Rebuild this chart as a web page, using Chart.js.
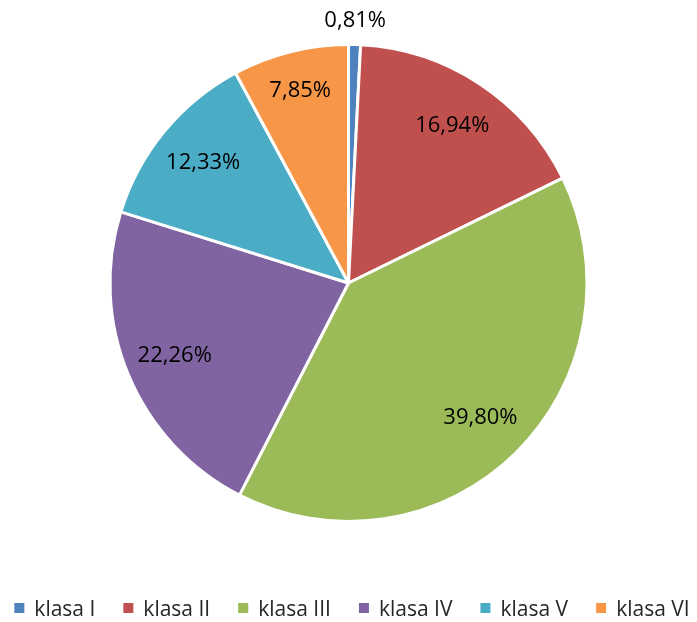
<!DOCTYPE html>
<html>
<head>
<meta charset="utf-8">
<script src="https://cdn.jsdelivr.net/npm/chart.js@4"></script>
<style>
  html, body { margin: 0; padding: 0; background: #fff; }
  #wrap { width: 697px; height: 622px; }
</style>
</head>
<body>
<div id="wrap"><canvas id="pie"></canvas></div>
<script>
    const categories = ['klasa I', 'klasa II', 'klasa III', 'klasa IV', 'klasa V', 'klasa VI'];
    const shares = [0.81, 16.94, 39.80, 22.26, 12.33, 7.85];
    const colors = ['#4F81BD', '#C0504D', '#9BBB59', '#8064A2', '#4BACC6', '#F79646'];

    const labelFont = '22px "Open Sans", sans-serif';
    const legendFont = '21px "Open Sans", sans-serif';

    // etykiety z wartościami na wycinkach
    const sliceLabels = {
        id: 'sliceLabels',
        afterDatasetsDraw(chart) {
            const ctx = chart.ctx;
            const arcs = chart.getDatasetMeta(0).data;
            ctx.save();
            ctx.font = labelFont;
            ctx.fillStyle = '#000';
            ctx.textAlign = 'center';
            ctx.textBaseline = 'middle';
            arcs.forEach((arc, i) => {
                const mid = (arc.startAngle + arc.endAngle) / 2;
                const f = shares[i] < 2 ? 1.1 : (shares[i] < 10 ? 0.83 : 0.79);
                const r = arc.outerRadius * f;
                const x = arc.x + Math.cos(mid) * r;
                const y = arc.y + Math.sin(mid) * r;
                ctx.fillText(shares[i].toFixed(2).replace('.', ',') + '%', x, y);
            });
            ctx.restore();
        }
    };

    // legenda rysowana recznie pod wykresem
    const bottomLegend = {
        id: 'bottomLegend',
        afterDraw(chart) {
            const ctx = chart.ctx;
            const box = 10, boxGap = 10, itemGap = 28, y = 610;
            ctx.save();
            ctx.font = legendFont;
            ctx.textBaseline = 'middle';
            ctx.textAlign = 'left';
            const widths = categories.map(c => ctx.measureText(c).width);
            const total = widths.reduce((s, w) => s + box + boxGap + w, 0) + itemGap * (categories.length - 1);
            let x = 352 - total / 2;
            categories.forEach((c, i) => {
                ctx.fillStyle = colors[i];
                ctx.fillRect(x, y - 7, box, box);
                ctx.fillStyle = '#262626';
                ctx.fillText(c, x + box + boxGap, y);
                x += box + boxGap + widths[i] + itemGap;
            });
            ctx.restore();
        }
    };

    new Chart(document.getElementById('pie'), {
        type: 'pie',
        data: {
            labels: categories,
            datasets: [{
                data: shares,
                backgroundColor: colors,
                borderColor: '#fff',
                borderWidth: 3
            }]
        },
        options: {
            responsive: true,
            maintainAspectRatio: false,
            animation: false,
            layout: { padding: { top: 43, bottom: 99 } },
            plugins: {
                legend: { display: false },
                tooltip: { enabled: false }
            }
        },
        plugins: [sliceLabels, bottomLegend]
    });
</script>
</body>
</html>
